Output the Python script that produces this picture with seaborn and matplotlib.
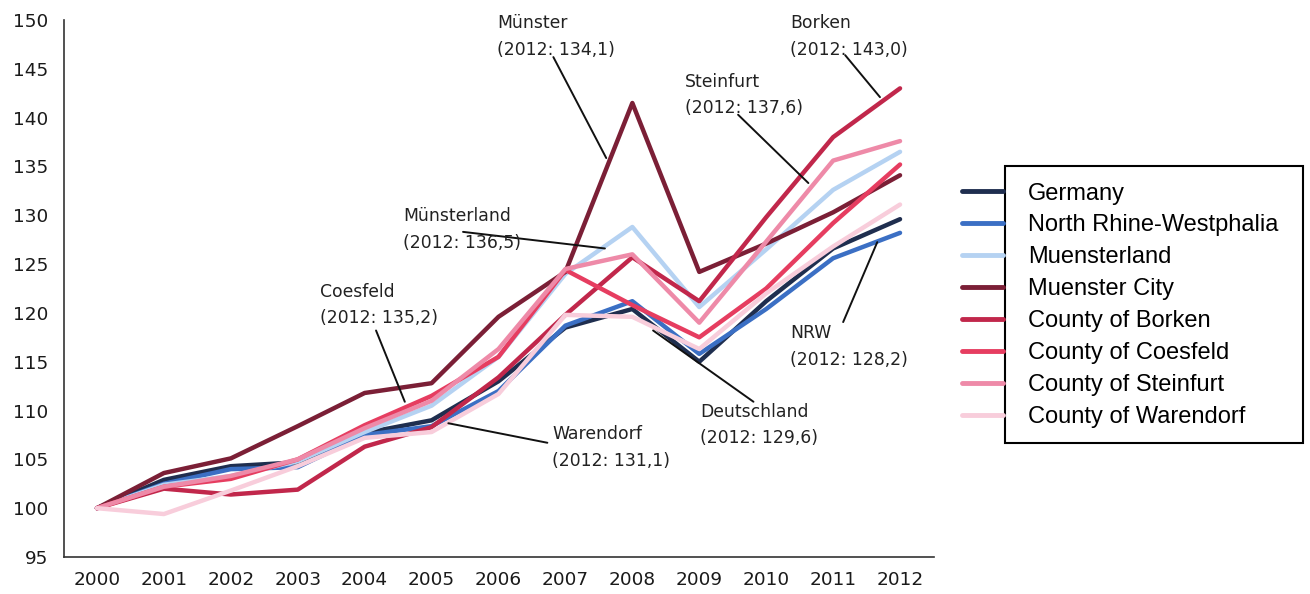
import matplotlib
matplotlib.use("Agg")
import matplotlib.pyplot as plt
from matplotlib.patches import Rectangle
from matplotlib.ticker import MultipleLocator, FixedLocator
import seaborn as sns
import pandas as pd

years = list(range(2000, 2013))
series_names = ["Germany", "North Rhine-Westphalia", "Muensterland", "Muenster City",
                "County of Borken", "County of Coesfeld", "County of Steinfurt",
                "County of Warendorf"]
germany = [100, 102.9, 104.3, 104.7, 107.7, 109.0, 113.0, 118.5, 120.4, 115.0, 121.2, 126.6, 129.6]
nrw = [100, 102.5, 104.0, 104.2, 107.5, 108.4, 112.0, 118.7, 121.2, 115.8, 120.4, 125.6, 128.2]
muensterland = [100, 102.4, 103.3, 104.8, 107.8, 110.5, 115.5, 124.0, 128.8, 120.6, 126.5, 132.6, 136.5]
muenster_city = [100, 103.6, 105.1, 108.4, 111.8, 112.8, 119.6, 124.2, 141.5, 124.2, 127.1, 130.3, 134.1]
borken = [100, 102.0, 101.4, 101.9, 106.3, 108.3, 113.4, 119.8, 125.7, 121.2, 129.8, 138.0, 143.0]
coesfeld = [100, 102.2, 103.0, 105.0, 108.5, 111.5, 115.5, 124.4, 120.8, 117.5, 122.5, 129.2, 135.2]
steinfurt = [100, 102.2, 103.3, 105.0, 108.2, 111.0, 116.3, 124.5, 126.0, 119.0, 127.3, 135.6, 137.6]
warendorf = [100, 99.4, 101.8, 104.3, 107.2, 107.8, 111.7, 119.8, 119.6, 116.3, 122.0, 126.8, 131.1]
series_values = [germany, nrw, muensterland, muenster_city, borken, coesfeld, steinfurt, warendorf]
colors = ["#1f2e4f", "#3b6fc4", "#b5d2f2", "#7b1f36", "#c1274b", "#e63d60", "#ee8aa8", "#f8cddb"]

# annotations: label, text anchor (year, value), leader line start, leader line end
ann_labels = ["Münster\n(2012: 134,1)", "Borken\n(2012: 143,0)", "Steinfurt\n(2012: 137,6)",
              "Münsterland\n(2012: 136,5)", "Coesfeld\n(2012: 135,2)", "Warendorf\n(2012: 131,1)",
              "Deutschland\n(2012: 129,6)", "NRW\n(2012: 128,2)"]
ann_text_pos = [(2005.98, 150.6), (2010.36, 150.6), (2008.79, 144.6), (2004.57, 130.8),
                (2003.33, 123.1), (2006.80, 108.5), (2009.01, 110.8), (2010.36, 118.85)]
ann_line_start = [(2006.82, 146.2), (2011.18, 146.4), (2009.58, 140.3), (2005.47, 128.3),
                  (2004.17, 118.2), (2005.25, 108.7), (2008.31, 118.2), (2011.15, 119.06)]
ann_line_end = [(2007.61, 135.86), (2011.70, 142.1), (2010.63, 133.3), (2007.59, 126.6),
                (2004.60, 110.9), (2006.73, 106.7), (2009.81, 110.9), (2011.66, 127.25)]

rows = []
for name, vals in zip(series_names, series_values):
    for y, v in zip(years, vals):
        rows.append({"year": y, "value": v, "series": name})
df = pd.DataFrame(rows)

sns.set_style("white")
plt.rcParams["font.family"] = ["DejaVu Sans"]

fig = plt.figure(figsize=(13.1, 5.94), dpi=100)
ax = fig.add_axes([63.5 / 1310, 1 - 557 / 594, 870 / 1310, 537 / 594])

sns.lineplot(data=df, x="year", y="value", hue="series", hue_order=series_names,
             palette=dict(zip(series_names, colors)), linewidth=3.2, ax=ax, legend=True)

ax.set_xlim(1999.5, 2012.5)
ax.set_ylim(95, 150)
ax.yaxis.set_major_locator(MultipleLocator(5))
ax.xaxis.set_major_locator(FixedLocator(years))
ax.set_xticklabels([str(y) for y in years])
ax.xaxis.set_minor_locator(FixedLocator([y + 0.5 for y in years[:-1]]))
ax.tick_params(axis="x", which="major", length=0, pad=10, labelsize=13.3, colors="#1a1a1a")
ax.tick_params(axis="x", which="minor", length=6, direction="in", width=1, color="#333333")
ax.tick_params(axis="y", which="major", length=0, pad=11, labelsize=13.3, colors="#1a1a1a")
ax.set_xlabel("")
ax.set_ylabel("")
for s in ["top", "right"]:
    ax.spines[s].set_visible(False)
for s in ["left", "bottom"]:
    ax.spines[s].set_color("#333333")
    ax.spines[s].set_linewidth(1.2)

for lab, tp, ls, le in zip(ann_labels, ann_text_pos, ann_line_start, ann_line_end):
    ax.text(tp[0], tp[1], lab, fontsize=12.4, va="top", ha="left", linespacing=1.62,
            color="#222222", clip_on=False)
    ax.plot([ls[0], le[0]], [ls[1], le[1]], color="#111111", lw=1.4, clip_on=False)

handles, labels = ax.get_legend_handles_labels()
ax.get_legend().remove()
for h in handles:
    h.set_linewidth(3.5)
fig.legend(handles, labels, loc="upper left", bbox_to_anchor=(962 / 1310, 1 - 182.5 / 594),
           frameon=False, borderpad=0, borderaxespad=0, handlelength=1.74,
           handletextpad=1.06, labelspacing=0.42, labelcolor="black",
           prop={"family": "Liberation Sans", "size": 17})
fig.patches.append(Rectangle((1005 / 1310, 1 - 443 / 594), 298 / 1310, 277 / 594,
                             transform=fig.transFigure, fill=False, edgecolor="black",
                             linewidth=1.5))

fig.savefig("out.png", dpi=100, facecolor="white")
